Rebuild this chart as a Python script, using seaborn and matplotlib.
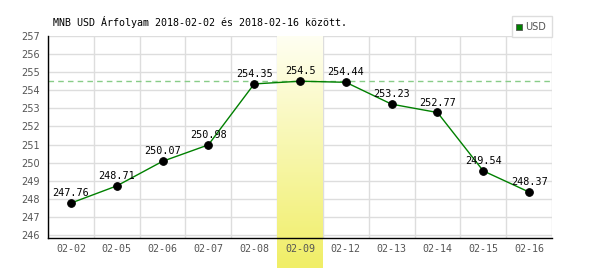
import numpy as np
import matplotlib
matplotlib.use("Agg")
import matplotlib.pyplot as plt
import seaborn as sns
from matplotlib.patches import Rectangle
from matplotlib.colors import LinearSegmentedColormap

dates = ["02-02", "02-05", "02-06", "02-07", "02-08", "02-09",
         "02-12", "02-13", "02-14", "02-15", "02-16"]
values = [247.76, 248.71, 250.07, 250.98, 254.35, 254.5,
          254.44, 253.23, 252.77, 249.54, 248.37]
labels = ["247.76", "248.71", "250.07", "250.98", "254.35", "254.5",
          "254.44", "253.23", "252.77", "249.54", "248.37"]
yticks = list(range(246, 258))
title = "MNB USD Árfolyam 2018-02-02 és 2018-02-16 között."
series_name = "USD"

sns.set_style("white")
plt.rcParams['font.family'] = ['DejaVu Sans']

fig = plt.figure(figsize=(6, 2.7), dpi=100)
ax = fig.add_axes([48/600, 1-238/270, 504/600, 202/270])
ax.set_axisbelow(False)

ymin, ymax = 245.83, 257
n = len(dates)
pos = np.arange(n)

# highlight band on max day
imax = int(np.argmax(values))
grad = np.linspace(0, 1, 256).reshape(-1, 1)
cmap = LinearSegmentedColormap.from_list("hl", ["#fffff2", "#f0ee66"])
band_bottom = 246 - (268 - 235) / 18.09
ax.imshow(grad, cmap=cmap, aspect='auto', extent=(imax - 0.5, imax + 0.5, band_bottom, ymax),
          origin='upper', zorder=1, clip_on=False)

sns.lineplot(x=pos, y=values, ax=ax, color="#008000", linewidth=1, zorder=3,
             marker='o', markersize=5.5, markerfacecolor='black', markeredgecolor='black')

ax.axhline(max(values), color="#88cc88", linestyle=(0, (4, 3)), linewidth=1, zorder=2)

for i, (v, t) in enumerate(zip(values, labels)):
    ax.annotate(t, (i, v), xytext=(0, 3.5), textcoords='offset points', ha='center', va='bottom',
                fontsize=7.3, family='DejaVu Sans Mono', color='black', zorder=5)

ax.set_xlim(-0.5, n - 0.5)
ax.set_ylim(ymin, ymax)
ax.set_xticks(pos)
ax.set_xticklabels(dates, family='DejaVu Sans Mono', fontsize=7.2, color='#555555')
ax.set_yticks(yticks)
ax.set_yticklabels([str(y) for y in yticks], fontsize=7, color='#555555')
ax.tick_params(axis='both', which='both', length=0, pad=4)
ax.tick_params(axis='y', pad=6)
ax.grid(False)
for y in yticks:
    ax.axhline(y, color='#dddddd', linewidth=1, zorder=0)
for x in np.arange(-0.5, n, 1):
    ax.axvline(x, color='#dddddd', linewidth=1, zorder=0)
for s in ['top', 'right']:
    ax.spines[s].set_visible(False)
for s in ['left', 'bottom']:
    ax.spines[s].set_color('black')
    ax.spines[s].set_linewidth(1)
    ax.spines[s].set_zorder(4)
ax.xaxis.set_zorder(4)
ax.yaxis.set_zorder(4)
ax.set_xlabel("")
ax.set_ylabel("")

fig.text(53/600, 1-22/270, title, family='DejaVu Sans Mono', fontsize=7.2, ha='left', va='center', color='black')

# legend box
fig.patches.append(Rectangle((512/600, 1-37/270), 40/600, 21/270, transform=fig.transFigure,
                             facecolor='white', edgecolor='#dddddd', linewidth=1))
fig.patches.append(Rectangle((516/600, 1-30/270), 6/600, 6/270, transform=fig.transFigure,
                             facecolor='#008000', edgecolor='#555555', linewidth=0.6))
fig.text(525/600, 1-27/270, series_name, fontsize=7, color='#555555', ha='left', va='center')

fig.savefig("out.png", dpi=100)
